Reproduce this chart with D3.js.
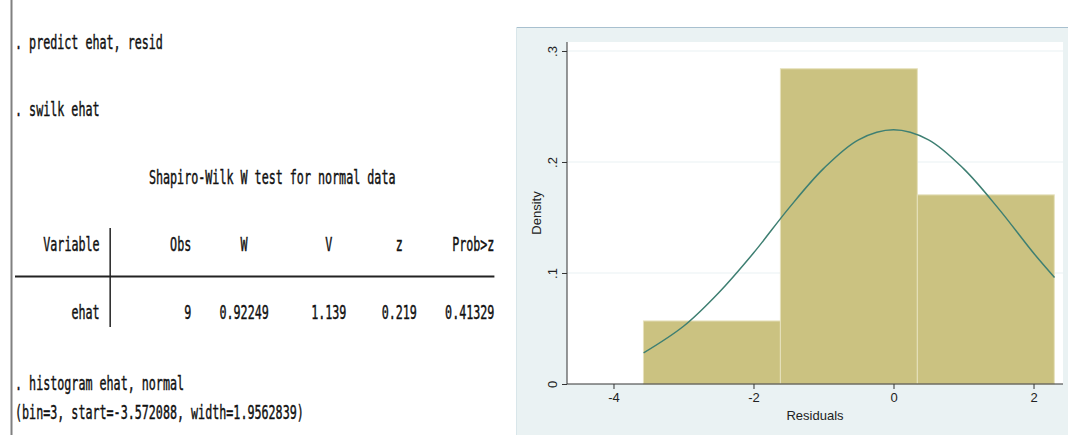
<!DOCTYPE html>
<html>
<head>
<meta charset="utf-8">
<script src="https://cdn.jsdelivr.net/npm/d3@7"></script>
<style>
  html, body { margin: 0; padding: 0; background: #ffffff; }
  svg { display: block; }
</style>
</head>
<body>
<svg id="chart" width="1068" height="435"></svg>
<script>
// ---- data ----
const commandLines = [". predict ehat, resid", ". swilk ehat"];
const tableTitle = "Shapiro-Wilk W test for normal data";
const tableHeader = ["Variable", "Obs", "W", "V", "z", "Prob>z"];
const tableRow = ["ehat", "9", "0.92249", "1.139", "0.219", "0.41329"];
const histCommand = [". histogram ehat, normal", "(bin=3, start=-3.572088, width=1.9562839)"];

// histogram bins (left edge, right edge) and densities
const binLeft = [-3.572088, -1.615804, 0.340480];
const binRight = [-1.615804, 0.340480, 2.296763];
const binDensity = [0.0568, 0.2840, 0.1704];

// normal overlay, points
const curveX = [-3.57, -3.0, -2.5, -2.0, -1.5, -1.0, -0.5, 0, 0.5, 1.0, 1.5, 2.0, 2.3];
const curveY = [0.028, 0.052, 0.082, 0.118, 0.158, 0.194, 0.220, 0.229, 0.220, 0.194, 0.158, 0.118, 0.096];

const xTicks = [-4, -2, 0, 2];
const yTicks = [0, 0.1, 0.2, 0.3];
const yTickLabels = ["0", ".1", ".2", ".3"];

const svg = d3.select("#chart");

// ---- left panel: Stata results text ----
const x0 = 15, cw = 7.05, fontSize = 19;
const sx = cw / (0.602 * fontSize);

const textPanel = svg.append("g").attr("class", "results");

textPanel.append("line")
    .attr("x1", 11.5).attr("x2", 11.5)
    .attr("y1", 0).attr("y2", 435)
    .attr("stroke", "#808080")
    .attr("stroke-width", 2);

function monoText(str, col, baseline, anchor) {
    textPanel.append("text")
        .attr("transform", `translate(${x0 + col * cw},${baseline}) scale(${sx},1)`)
        .attr("text-anchor", anchor || "start")
        .attr("font-family", "DejaVu Sans Mono")
        .attr("font-size", fontSize)
        .attr("fill", "#111")
        .attr("stroke", "#111")
        .attr("stroke-width", 0.45)
        .attr("xml:space", "preserve")
        .text(str);
}

monoText(commandLines[0], 0, 49);
monoText(commandLines[1], 0, 116);
monoText(tableTitle, 19, 184);

// header and row cells end at these character positions
const headerEnds = [12, 25, 33, 45, 55, 68];
const rowEnds = [12, 25, 36, 47, 57, 68];
tableHeader.forEach((d, i) => monoText(d, headerEnds[i], 251, "end"));
tableRow.forEach((d, i) => monoText(d, rowEnds[i], 319, "end"));

// table rules
textPanel.append("line")
    .attr("x1", x0).attr("x2", x0 + 68 * cw)
    .attr("y1", 276.5).attr("y2", 276.5)
    .attr("stroke", "#222").attr("stroke-width", 2);
textPanel.append("line")
    .attr("x1", x0 + 13.5 * cw).attr("x2", x0 + 13.5 * cw)
    .attr("y1", 228).attr("y2", 327)
    .attr("stroke", "#222").attr("stroke-width", 1.5);

monoText(histCommand[0], 0, 390);
monoText(histCommand[1], 0, 419);

// ---- right panel: histogram ----
const outer = { left: 516, top: 27 };
const plot = { left: 567, right: 1063, top: 42, bottom: 384 };

svg.append("rect")
    .attr("x", outer.left).attr("y", outer.top)
    .attr("width", 1068 - outer.left).attr("height", 435 - outer.top)
    .attr("fill", "#eaf2f3");
svg.append("line")
    .attr("x1", outer.left).attr("x2", 1068)
    .attr("y1", outer.top + 0.5).attr("y2", outer.top + 0.5)
    .attr("stroke", "#a8c0cf");
svg.append("line")
    .attr("x1", outer.left + 0.5).attr("x2", outer.left + 0.5)
    .attr("y1", outer.top).attr("y2", 435)
    .attr("stroke", "#d9e6ea");

svg.append("rect")
    .attr("x", plot.left).attr("y", plot.top)
    .attr("width", plot.right - plot.left).attr("height", plot.bottom - plot.top)
    .attr("fill", "#ffffff");

const xScale = d3.scaleLinear()
    .domain([-4.664, 2.421])
    .range([plot.left, plot.right]);

const yScale = d3.scaleLinear()
    .domain([0, 0.3081])
    .range([plot.bottom, plot.top]);

// gridlines
svg.append("g")
    .selectAll("line")
    .data(yTicks.filter(d => d > 0))
    .join("line")
    .attr("x1", plot.left).attr("x2", plot.right)
    .attr("y1", d => yScale(d)).attr("y2", d => yScale(d))
    .attr("stroke", "#eaf2f3")
    .attr("stroke-width", 1.2);

// bars
const bins = binLeft.map((d, i) => ({ x0: d, x1: binRight[i], density: binDensity[i] }));
svg.append("g")
    .selectAll("rect")
    .data(bins)
    .join("rect")
    .attr("x", d => xScale(d.x0))
    .attr("y", d => yScale(d.density))
    .attr("width", d => xScale(d.x1) - xScale(d.x0))
    .attr("height", d => yScale(0) - yScale(d.density))
    .attr("fill", "#cbc281")
    .attr("stroke", "#e6e1bd")
    .attr("stroke-width", 1);

// normal curve
const curvePts = curveX.map((d, i) => [d, curveY[i]]);
svg.append("path")
    .datum(curvePts)
    .attr("fill", "none")
    .attr("stroke", "#3e7f72")
    .attr("stroke-width", 1.5)
    .attr("d", d3.line()
        .x(d => xScale(d[0]))
        .y(d => yScale(d[1]))
        .curve(d3.curveCatmullRom));

// axes
const axisFont = "Liberation Sans, Arial, sans-serif";

const yAxis = d3.axisLeft(yScale)
    .tickValues(yTicks)
    .tickSize(5)
    .tickPadding(4)
    .tickFormat((d, i) => yTickLabels[i]);

svg.append("g")
    .attr("transform", `translate(${plot.left},0)`)
    .call(yAxis)
    .call(g => g.select(".domain").attr("stroke", "#333").attr("d", `M0,${plot.top}V${plot.bottom}`))
    .call(g => g.selectAll(".tick line").attr("stroke", "#333"))
    .call(g => g.selectAll(".tick text")
        .attr("font-family", axisFont)
        .attr("font-size", 13)
        .attr("fill", "#222")
        .attr("text-anchor", "middle")
        .attr("dy", null)
        .attr("x", null)
        .attr("transform", "translate(-15,0) rotate(-90)")
        .attr("dominant-baseline", "central"));

const xAxis = d3.axisBottom(xScale)
    .tickValues(xTicks)
    .tickSize(5)
    .tickPadding(4)
    .tickFormat(d => String(d));

svg.append("g")
    .attr("transform", `translate(0,${plot.bottom})`)
    .call(xAxis)
    .call(g => g.select(".domain").attr("stroke", "#333").attr("d", `M${plot.left},0H${plot.right}`))
    .call(g => g.selectAll(".tick line").attr("stroke", "#333"))
    .call(g => g.selectAll(".tick text")
        .attr("font-family", axisFont)
        .attr("font-size", 13)
        .attr("fill", "#222"));

// axis titles
svg.append("text")
    .attr("transform", `translate(541,${(plot.top + plot.bottom) / 2}) rotate(-90)`)
    .attr("text-anchor", "middle")
    .attr("font-family", axisFont)
    .attr("font-size", 13)
    .attr("fill", "#222")
    .text("Density");

svg.append("text")
    .attr("x", (plot.left + plot.right) / 2)
    .attr("y", 420)
    .attr("text-anchor", "middle")
    .attr("font-family", axisFont)
    .attr("font-size", 13)
    .attr("fill", "#222")
    .text("Residuals");
</script>
</body>
</html>
